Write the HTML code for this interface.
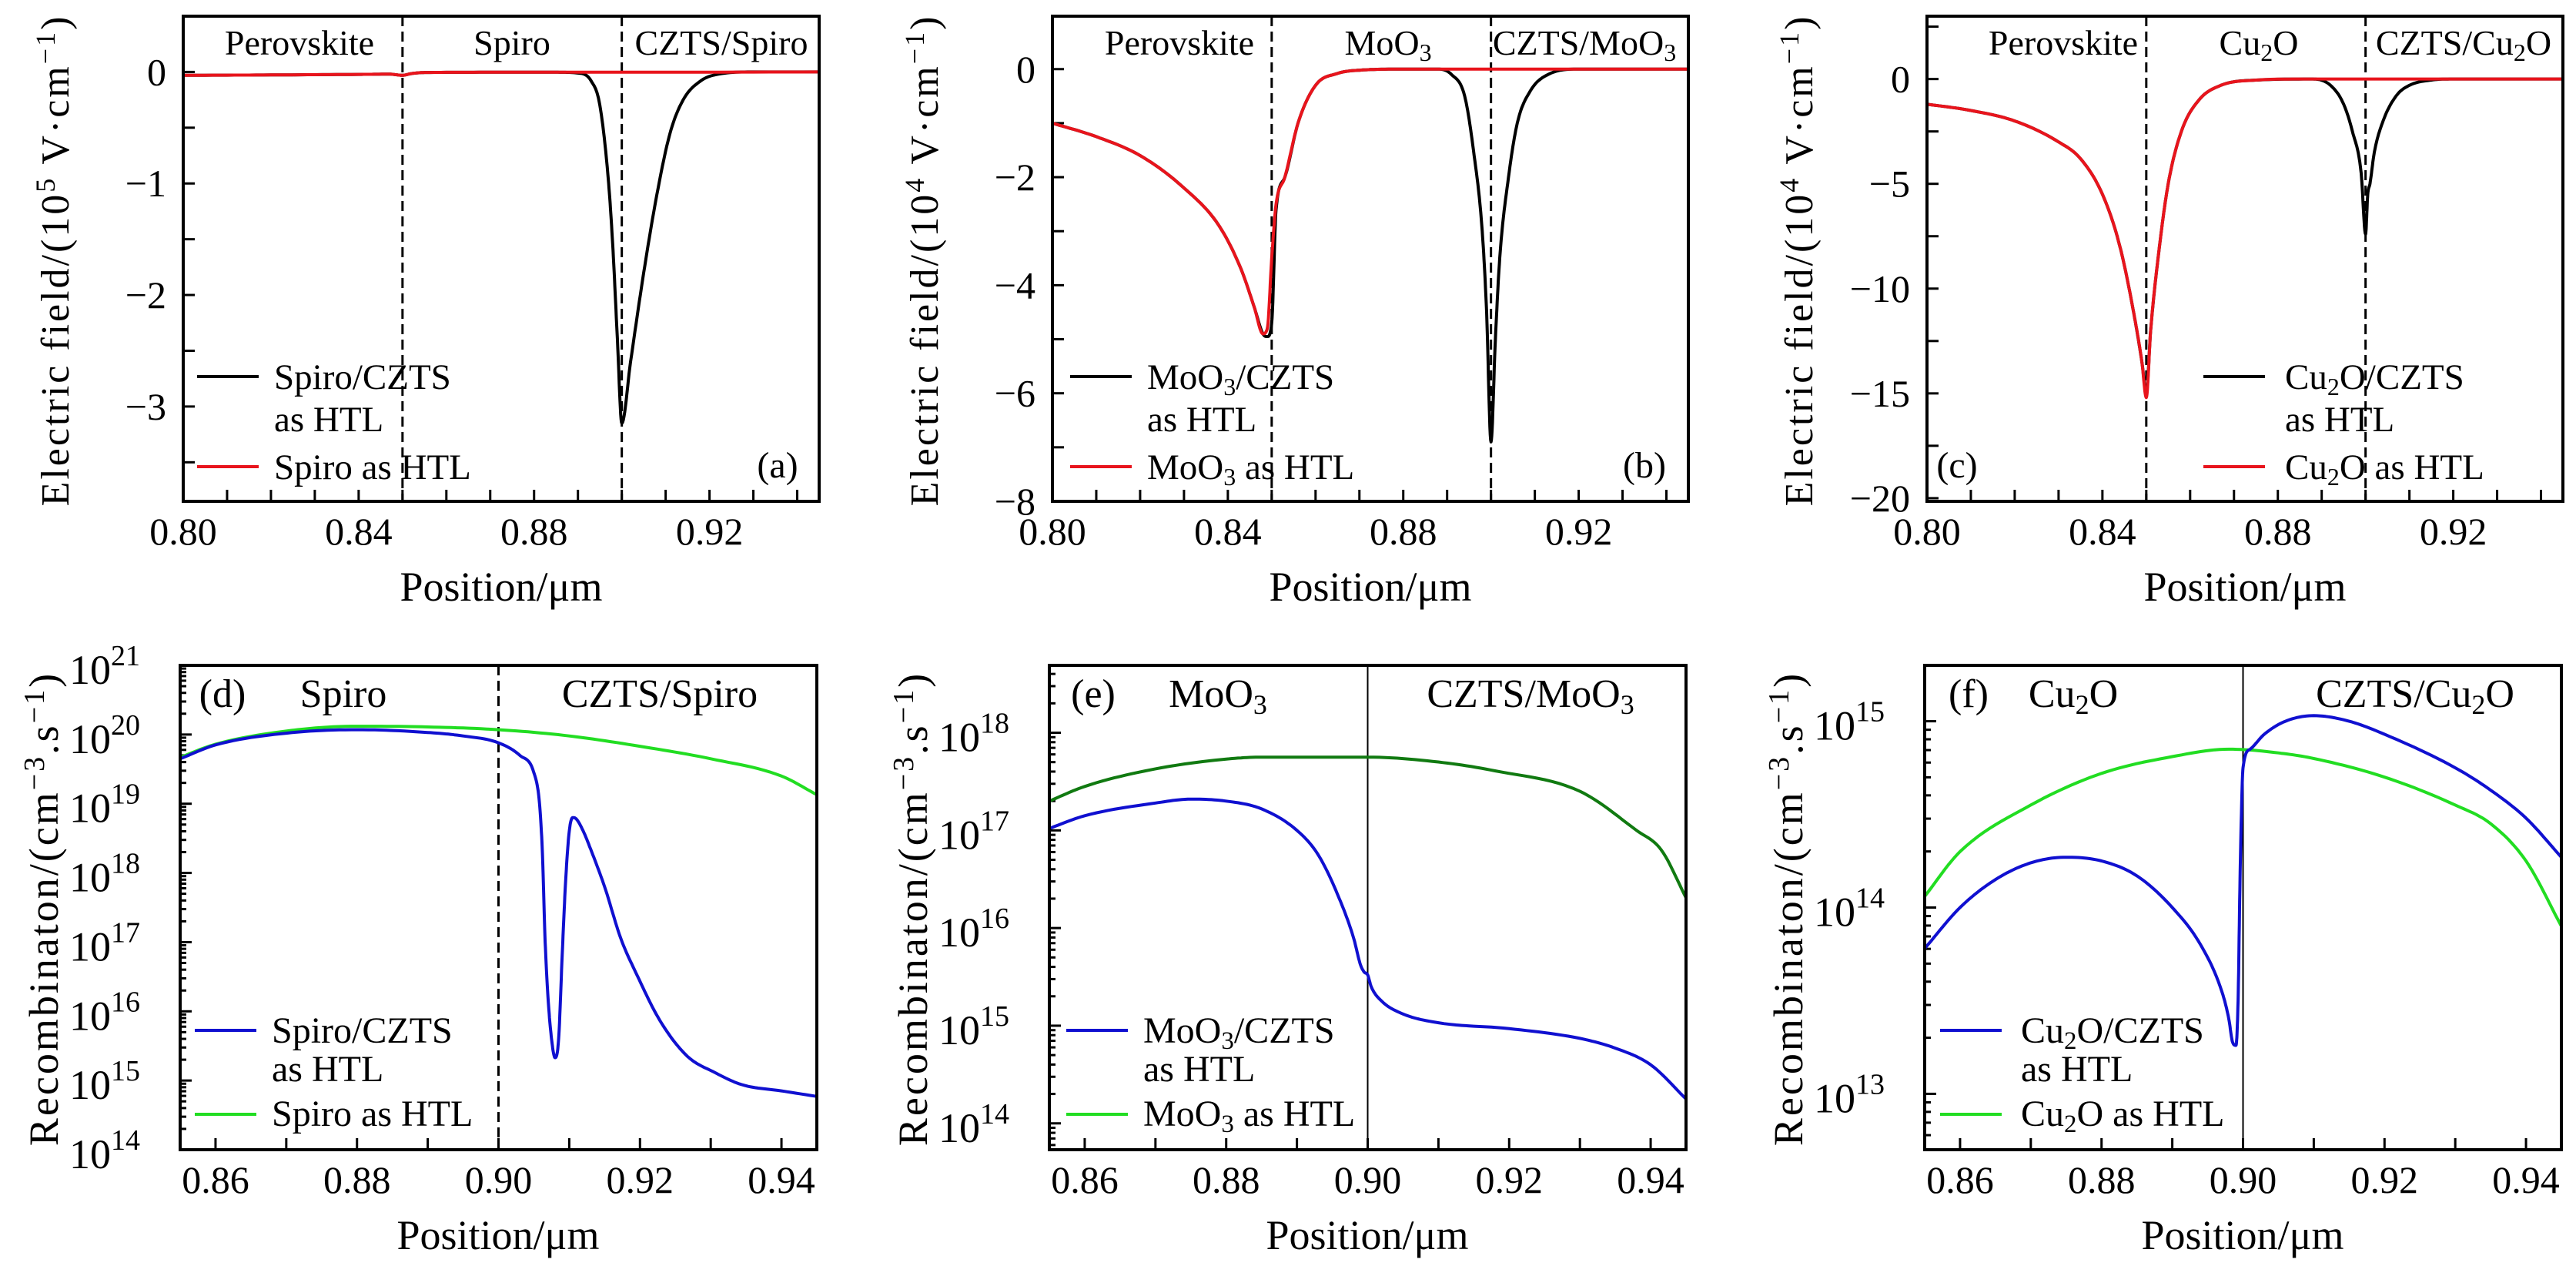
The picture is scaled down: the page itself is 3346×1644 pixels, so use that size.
<!DOCTYPE html>
<html><head><meta charset="utf-8"><title>Electric field and recombination profiles</title>
<style>
html,body{margin:0;padding:0;background:#fff;}
svg{display:block;font-family:"Liberation Serif",serif;}
</style></head>
<body>
<svg id="fig" width="3346" height="1644" viewBox="0 0 3346 1644" xmlns="http://www.w3.org/2000/svg">
<rect x="0" y="0" width="3346" height="1644" fill="#fff"/>
<g font-size="46" fill="#000">
  <text x="389" y="71" font-size="46" text-anchor="middle">Perovskite</text>
  <text x="665" y="71" font-size="46" text-anchor="middle">Spiro</text>
  <text x="937" y="71" font-size="46" text-anchor="middle">CZTS/Spiro</text>
  <text x="1532" y="71" font-size="46" text-anchor="middle">Perovskite</text>
  <text x="1803" y="71" font-size="46" text-anchor="middle">MoO<tspan font-size="32" dy="8">3</tspan></text>
  <text x="2058" y="71" font-size="46" text-anchor="middle">CZTS/MoO<tspan font-size="32" dy="8">3</tspan></text>
  <text x="2680" y="71" font-size="46" text-anchor="middle">Perovskite</text>
  <text x="2934" y="71" font-size="46" text-anchor="middle">Cu<tspan font-size="32" dy="8">2</tspan><tspan dy="-8">O</tspan></text>
  <text x="3200" y="71" font-size="46" text-anchor="middle">CZTS/Cu<tspan font-size="32" dy="8">2</tspan><tspan dy="-8">O</tspan></text>
  <text x="1010" y="620" font-size="48" text-anchor="middle">(a)</text>
  <text x="2136" y="620" font-size="48" text-anchor="middle">(b)</text>
  <text x="2542" y="620" font-size="48" text-anchor="middle">(c)</text>
  <text x="289" y="918" font-size="52" text-anchor="middle">(d)</text>
  <text x="446" y="918" font-size="52" text-anchor="middle">Spiro</text>
  <text x="857" y="918" font-size="52" text-anchor="middle">CZTS/Spiro</text>
  <text x="1420" y="918" font-size="52" text-anchor="middle">(e)</text>
  <text x="1582" y="918" font-size="52" text-anchor="middle">MoO<tspan font-size="36" dy="9">3</tspan></text>
  <text x="1988" y="918" font-size="52" text-anchor="middle">CZTS/MoO<tspan font-size="36" dy="9">3</tspan></text>
  <text x="2557" y="918" font-size="52" text-anchor="middle">(f)</text>
  <text x="2693" y="918" font-size="52" text-anchor="middle">Cu<tspan font-size="36" dy="9">2</tspan><tspan dy="-9">O</tspan></text>
  <text x="3137" y="918" font-size="52" text-anchor="middle">CZTS/Cu<tspan font-size="36" dy="9">2</tspan><tspan dy="-9">O</tspan></text>
  <text x="651" y="780" font-size="54" text-anchor="middle">Position/μm</text>
  <text x="1780" y="780" font-size="54" text-anchor="middle">Position/μm</text>
  <text x="2916" y="780" font-size="54" text-anchor="middle">Position/μm</text>
  <text x="647" y="1622" font-size="54" text-anchor="middle">Position/μm</text>
  <text x="1776" y="1622" font-size="54" text-anchor="middle">Position/μm</text>
  <text x="2913" y="1622" font-size="54" text-anchor="middle">Position/μm</text>
  <text transform="translate(89,338) rotate(-90)" font-size="52" text-anchor="middle" letter-spacing="3">Electric field/(10<tspan font-size="36" dy="-18">5</tspan><tspan dy="18"> V·cm</tspan><tspan font-size="36" dy="-18">−1</tspan><tspan dy="18">)</tspan></text>
  <text transform="translate(1218,338) rotate(-90)" font-size="52" text-anchor="middle" letter-spacing="3">Electric field/(10<tspan font-size="36" dy="-18">4</tspan><tspan dy="18"> V·cm</tspan><tspan font-size="36" dy="-18">−1</tspan><tspan dy="18">)</tspan></text>
  <text transform="translate(2354,338) rotate(-90)" font-size="52" text-anchor="middle" letter-spacing="3">Electric field/(10<tspan font-size="36" dy="-18">4</tspan><tspan dy="18"> V·cm</tspan><tspan font-size="36" dy="-18">−1</tspan><tspan dy="18">)</tspan></text>
  <text transform="translate(75,1180) rotate(-90)" font-size="54" text-anchor="middle" letter-spacing="3">Recombinaton/(cm<tspan font-size="38" dy="-18">−3</tspan><tspan dy="18">.s</tspan><tspan font-size="38" dy="-18">−1</tspan><tspan dy="18">)</tspan></text>
  <text transform="translate(1204,1180) rotate(-90)" font-size="54" text-anchor="middle" letter-spacing="3">Recombinaton/(cm<tspan font-size="38" dy="-18">−3</tspan><tspan dy="18">.s</tspan><tspan font-size="38" dy="-18">−1</tspan><tspan dy="18">)</tspan></text>
  <text transform="translate(2341,1180) rotate(-90)" font-size="54" text-anchor="middle" letter-spacing="3">Recombinaton/(cm<tspan font-size="38" dy="-18">−3</tspan><tspan dy="18">.s</tspan><tspan font-size="38" dy="-18">−1</tspan><tspan dy="18">)</tspan></text>
  <g font-size="47">
    <line x1="256" y1="489" x2="336" y2="489" stroke="#000" stroke-width="4"/>
    <text x="356" y="505">Spiro/CZTS</text><text x="356" y="560">as HTL</text>
    <line x1="256" y1="606" x2="336" y2="606" stroke="#e8141c" stroke-width="4"/>
    <text x="356" y="622">Spiro as HTL</text>
  </g>
  <g font-size="47">
    <line x1="1390" y1="489" x2="1470" y2="489" stroke="#000" stroke-width="4"/>
    <text x="1490" y="505">MoO<tspan font-size="32" dy="8">3</tspan><tspan dy="-8">/CZTS</tspan></text><text x="1490" y="560">as HTL</text>
    <line x1="1390" y1="606" x2="1470" y2="606" stroke="#e8141c" stroke-width="4"/>
    <text x="1490" y="622">MoO<tspan font-size="32" dy="8">3</tspan><tspan dy="-8"> as HTL</tspan></text>
  </g>
  <g font-size="47">
    <line x1="2862" y1="489" x2="2942" y2="489" stroke="#000" stroke-width="4"/>
    <text x="2968" y="505">Cu<tspan font-size="32" dy="8">2</tspan><tspan dy="-8">O/CZTS</tspan></text><text x="2968" y="560">as HTL</text>
    <line x1="2862" y1="606" x2="2942" y2="606" stroke="#e8141c" stroke-width="4"/>
    <text x="2968" y="622">Cu<tspan font-size="32" dy="8">2</tspan><tspan dy="-8">O as HTL</tspan></text>
  </g>
  <g font-size="48">
    <line x1="253" y1="1338" x2="333" y2="1338" stroke="#1010d0" stroke-width="4"/>
    <text x="353" y="1354">Spiro/CZTS</text><text x="353" y="1404">as HTL</text>
    <line x1="253" y1="1447" x2="333" y2="1447" stroke="#22dd22" stroke-width="4"/>
    <text x="353" y="1462">Spiro as HTL</text>
  </g>
  <g font-size="48">
    <line x1="1385" y1="1338" x2="1465" y2="1338" stroke="#1010d0" stroke-width="4"/>
    <text x="1485" y="1354">MoO<tspan font-size="33" dy="8">3</tspan><tspan dy="-8">/CZTS</tspan></text><text x="1485" y="1404">as HTL</text>
    <line x1="1385" y1="1447" x2="1465" y2="1447" stroke="#22dd22" stroke-width="4"/>
    <text x="1485" y="1462">MoO<tspan font-size="33" dy="8">3</tspan><tspan dy="-8"> as HTL</tspan></text>
  </g>
  <g font-size="48">
    <line x1="2520" y1="1338" x2="2600" y2="1338" stroke="#1010d0" stroke-width="4"/>
    <text x="2625" y="1354">Cu<tspan font-size="33" dy="8">2</tspan><tspan dy="-8">O/CZTS</tspan></text><text x="2625" y="1404">as HTL</text>
    <line x1="2520" y1="1447" x2="2600" y2="1447" stroke="#22dd22" stroke-width="4"/>
    <text x="2625" y="1462">Cu<tspan font-size="33" dy="8">2</tspan><tspan dy="-8">O as HTL</tspan></text>
  </g>
</g>
</svg>
<script>
// ---------- data ----------
const aRedX = [0.800,0.820,0.840,0.847,0.850,0.852,0.855,0.870,0.900,0.945];
const aRedY = [-0.030,-0.027,-0.022,-0.020,-0.030,-0.015,-0.005,-0.003,-0.003,0.000];
const aBlackX = [0.800,0.820,0.840,0.847,0.850,0.852,0.855,0.870,0.885,0.890,0.893,0.895,0.897,0.898,0.899,0.900,0.902,0.905,0.908,0.911,0.914,0.918,0.922,0.930,0.945];
const aBlackY = [-0.030,-0.027,-0.022,-0.020,-0.030,-0.015,-0.005,-0.003,-0.003,-0.01,-0.08,-0.3,-1.0,-1.6,-2.4,-3.15,-2.6,-1.8,-1.1,-0.55,-0.25,-0.08,-0.02,0,0];

const bRedX = [0.800,0.810,0.820,0.830,0.838,0.843,0.846,0.848,0.849,0.850,0.851,0.853,0.856,0.860,0.865,0.870,0.880,0.945];
const bRedY = [-1.0,-1.25,-1.6,-2.2,-2.9,-3.7,-4.4,-4.9,-4.8,-3.5,-2.5,-2.0,-1.0,-0.3,-0.08,-0.02,0,0];
const bBlackX = [0.800,0.810,0.820,0.830,0.838,0.843,0.846,0.848,0.849,0.850,0.851,0.853,0.856,0.860,0.865,0.870,0.880,0.888,0.891,0.894,0.896,0.898,0.899,0.900,0.901,0.902,0.904,0.906,0.909,0.913,0.920,0.945];
const bBlackY = [-1.0,-1.25,-1.6,-2.2,-2.9,-3.7,-4.4,-4.9,-4.95,-4.7,-2.6,-2.0,-1.0,-0.3,-0.08,-0.02,0,0,-0.1,-0.5,-1.5,-3.0,-4.5,-6.9,-5.0,-3.5,-2.0,-1.0,-0.4,-0.1,0,0];

const cRedX = [0.800,0.810,0.820,0.830,0.835,0.840,0.844,0.847,0.849,0.850,0.851,0.853,0.855,0.858,0.862,0.867,0.875,0.885,0.945];
const cRedY = [-1.2,-1.5,-2.0,-3.0,-3.8,-5.5,-8.0,-11.0,-13.5,-15.2,-12.0,-8.0,-5.0,-2.5,-1.0,-0.3,-0.05,0,0];
const cBlackX = [0.800,0.810,0.820,0.830,0.835,0.840,0.844,0.847,0.849,0.850,0.851,0.853,0.855,0.858,0.862,0.867,0.875,0.888,0.892,0.895,0.897,0.899,0.900,0.9005,0.901,0.902,0.904,0.907,0.910,0.915,0.920,0.945];
const cBlackY = [-1.2,-1.5,-2.0,-3.0,-3.8,-5.5,-8.0,-11.0,-13.5,-15.0,-12.0,-8.0,-5.0,-2.5,-1.0,-0.3,-0.05,0,-0.3,-1.2,-2.5,-4.5,-7.4,-5.5,-5.0,-3.5,-2.0,-0.8,-0.3,-0.05,0,0];

const dGreenX = [0.855,0.860,0.870,0.880,0.890,0.900,0.910,0.920,0.930,0.940,0.945];
const dGreenY = [19.67,19.86,20.05,20.12,20.11,20.07,19.98,19.83,19.65,19.40,19.13];
const dBlueX = [0.855,0.860,0.870,0.880,0.890,0.895,0.900,0.903,0.905,0.9058,0.9062,0.9066,0.907,0.9075,0.908,0.9085,0.909,0.9095,0.910,0.9105,0.911,0.912,0.913,0.915,0.9173,0.9196,0.9228,0.9267,0.9305,0.9344,0.940,0.945];
const dBlueY = [19.65,19.85,20.02,20.07,20.03,19.98,19.88,19.70,19.45,19.0,18.3,17.0,16.2,15.6,15.33,15.6,16.8,17.9,18.6,18.8,18.78,18.6,18.35,17.8,17.05,16.52,15.87,15.35,15.12,14.94,14.85,14.77];

const eGreenX = [0.855,0.860,0.870,0.880,0.885,0.900,0.910,0.918,0.930,0.938,0.9415,0.945];
const eGreenY = [17.30,17.45,17.63,17.73,17.75,17.75,17.70,17.61,17.40,17.00,16.80,16.31];
const eBlueX = [0.855,0.860,0.870,0.875,0.880,0.885,0.890,0.893,0.896,0.898,0.899,0.8995,0.900,0.9005,0.902,0.905,0.910,0.920,0.930,0.935,0.940,0.945];
const eBlueY = [17.02,17.15,17.28,17.32,17.30,17.22,17.00,16.75,16.30,15.90,15.62,15.55,15.52,15.40,15.25,15.12,15.03,14.97,14.87,14.77,14.60,14.25];

const fGreenX = [0.855,0.860,0.870,0.880,0.890,0.898,0.905,0.910,0.920,0.930,0.935,0.940,0.945];
const fGreenY = [14.06,14.30,14.55,14.72,14.81,14.85,14.83,14.80,14.70,14.55,14.45,14.25,13.90];
const fBlueX = [0.855,0.860,0.865,0.870,0.875,0.880,0.885,0.890,0.894,0.897,0.898,0.8985,0.899,0.8993,0.8996,0.900,0.901,0.903,0.906,0.910,0.915,0.920,0.930,0.935,0.940,0.945];
const fBlueY = [13.78,14.00,14.15,14.24,14.27,14.25,14.17,14.00,13.80,13.55,13.40,13.28,13.26,13.50,14.20,14.75,14.85,14.93,15.00,15.03,15.00,14.93,14.75,14.63,14.48,14.27];

const topXLabels = [0.80,0.84,0.88,0.92];
const botXLabels = [0.86,0.88,0.90,0.92,0.94];
const aYLabels = [0,-1,-2,-3];
const bYLabels = [0,-2,-4,-6,-8];
const cYLabels = [0,-5,-10,-15,-20];
const dDecades = [14,15,16,17,18,19,20,21];
const eDecades = [14,15,16,17,18];
const fDecades = [13,14,15];

// ---------- drawing ----------
const NS = 'http://www.w3.org/2000/svg';
const svg = document.getElementById('fig');
function el(tag, parent) { const e = document.createElementNS(NS, tag); parent.appendChild(e); return e; }

// monotone cubic (Fritsch-Carlson) sampling
function monotone(xs, ys) {
  const n = xs.length, dk = [], m = new Array(n);
  for (let i = 0; i < n - 1; i++) dk.push((ys[i+1] - ys[i]) / (xs[i+1] - xs[i]));
  m[0] = dk[0]; m[n-1] = dk[n-2];
  for (let i = 1; i < n - 1; i++) m[i] = (dk[i-1] * dk[i] <= 0) ? 0 : (dk[i-1] + dk[i]) / 2;
  for (let i = 0; i < n - 1; i++) {
    if (dk[i] === 0) { m[i] = 0; m[i+1] = 0; continue; }
    const a = m[i] / dk[i], b = m[i+1] / dk[i], s = a*a + b*b;
    if (s > 9) { const t = 3 / Math.sqrt(s); m[i] = t*a*dk[i]; m[i+1] = t*b*dk[i]; }
  }
  const px = [], py = [];
  for (let i = 0; i < n - 1; i++) {
    const h = xs[i+1] - xs[i];
    for (let j = 0; j < 12; j++) {
      const t = j / 12, t2 = t*t, t3 = t2*t;
      px.push(xs[i] + t*h);
      py.push((2*t3-3*t2+1)*ys[i] + (t3-2*t2+t)*h*m[i] + (-2*t3+3*t2)*ys[i+1] + (t3-t2)*h*m[i+1]);
    }
  }
  px.push(xs[n-1]); py.push(ys[n-1]);
  return [px, py];
}

const panels = [
  {id:'a', L:238, T:21, W:826, H:630, x0:0.80, x1:0.945, y0:-3.85, y1:0.5, log:false, yMinor:0.5, yLabels:aYLabels, xLabels:topXLabels, vlines:[0.85,0.90], dash:true,
   series:[{n:'spiro-czts', xs:aBlackX, ys:aBlackY, c:'#000'},{n:'spiro', xs:aRedX, ys:aRedY, c:'#e8141c'}]},
  {id:'b', L:1367, T:21, W:826, H:630, x0:0.80, x1:0.945, y0:-8, y1:0.98, log:false, yMinor:1, yLabels:bYLabels, xLabels:topXLabels, vlines:[0.85,0.90], dash:true,
   series:[{n:'moo3-czts', xs:bBlackX, ys:bBlackY, c:'#000'},{n:'moo3', xs:bRedX, ys:bRedY, c:'#e8141c'}]},
  {id:'c', L:2503, T:21, W:826, H:630, x0:0.80, x1:0.945, y0:-20.15, y1:3.0, log:false, yMinor:2.5, yLabels:cYLabels, xLabels:topXLabels, vlines:[0.85,0.90], dash:true,
   series:[{n:'cu2o-czts', xs:cBlackX, ys:cBlackY, c:'#000'},{n:'cu2o', xs:cRedX, ys:cRedY, c:'#e8141c'}]},
  {id:'d', L:234, T:864, W:827, H:629, x0:0.855, x1:0.945, y0:14, y1:21, log:true, yLabels:dDecades, xLabels:botXLabels, vlines:[0.90], dash:true,
   series:[{n:'spiro', xs:dGreenX, ys:dGreenY, c:'#22dd22'},{n:'spiro-czts', xs:dBlueX, ys:dBlueY, c:'#1010d0'}]},
  {id:'e', L:1363, T:864, W:827, H:629, x0:0.855, x1:0.945, y0:13.73, y1:18.69, log:true, yLabels:eDecades, xLabels:botXLabels, vlines:[0.90], dash:false,
   series:[{n:'moo3', xs:eGreenX, ys:eGreenY, c:'#117a11'},{n:'moo3-czts', xs:eBlueX, ys:eBlueY, c:'#1010d0'}]},
  {id:'f', L:2500, T:864, W:827, H:629, x0:0.855, x1:0.945, y0:12.70, y1:15.30, log:true, yLabels:fDecades, xLabels:botXLabels, vlines:[0.90], dash:false,
   series:[{n:'cu2o', xs:fGreenX, ys:fGreenY, c:'#22dd22'},{n:'cu2o-czts', xs:fBlueX, ys:fBlueY, c:'#1010d0'}]}
];

function fmtNum(v){ return (v<0?'\u2212':'') + Math.abs(v); }

panels.forEach(p => {
  const g = el('g', svg);
  
  
  const sx = v => p.L + (v - p.x0) / (p.x1 - p.x0) * p.W;
  const sy = v => p.T + p.H - (v - p.y0) / (p.y1 - p.y0) * p.H;
  const B = p.T + p.H;
  const cp = el('clipPath', g); cp.setAttribute('id', 'clip-' + p.id);
  const cr = el('rect', cp); cr.setAttribute('x', p.L); cr.setAttribute('y', p.T); cr.setAttribute('width', p.W); cr.setAttribute('height', p.H);
  for (let k = Math.ceil(p.x0*100 - 1e-6); k <= Math.floor(p.x1*100 + 1e-6); k++) {
    const v = k/100, x = sx(v);
    const t = el('line', g);
    
    
    t.setAttribute('x1', x); t.setAttribute('x2', x); t.setAttribute('y1', B); t.setAttribute('y2', B - 15);
    t.setAttribute('stroke', '#000'); t.setAttribute('stroke-width', 3);
  }
  p.xLabels.forEach(v => {
    const t = el('text', g);
    
    
    t.setAttribute('x', sx(v)); t.setAttribute('y', B + 56);
    t.setAttribute('font-size', 50); t.setAttribute('text-anchor', 'middle');
    t.textContent = v.toFixed(2);
  });
  if (!p.log) {
    for (let v = Math.ceil(p.y0 / p.yMinor) * p.yMinor; v <= p.y1 + 1e-9; v += p.yMinor) {
      const y = sy(v);
      const t = el('line', g);
      
      
      t.setAttribute('x1', p.L); t.setAttribute('x2', p.L + 15); t.setAttribute('y1', y); t.setAttribute('y2', y);
      t.setAttribute('stroke', '#000'); t.setAttribute('stroke-width', 3);
    }
    p.yLabels.forEach(v => {
      const t = el('text', g);
      
      
      t.setAttribute('x', p.L - 22); t.setAttribute('y', sy(v) + 17);
      t.setAttribute('font-size', 50); t.setAttribute('text-anchor', 'end');
      t.textContent = fmtNum(v);
    });
  } else {
    for (let d = Math.floor(p.y0); d <= Math.ceil(p.y1); d++) {
      for (let m = 1; m <= 9; m++) {
        const v = d + Math.log10(m);
        if (v < p.y0 - 1e-9 || v > p.y1 + 1e-9) continue;
        const y = sy(v);
        const t = el('line', g);
        
        
        t.setAttribute('x1', p.L); t.setAttribute('x2', p.L + (m === 1 ? 15 : 8)); t.setAttribute('y1', y); t.setAttribute('y2', y);
        t.setAttribute('stroke', '#000'); t.setAttribute('stroke-width', 3);
      }
    }
    p.yLabels.forEach(d => {
      const t = el('text', g);
      
      
      t.setAttribute('x', p.L - 52); t.setAttribute('y', sy(d) + 24);
      t.setAttribute('font-size', 54); t.setAttribute('text-anchor', 'end');
      t.textContent = '10';
      const s = el('tspan', t);
      s.setAttribute('font-size', 38); s.setAttribute('dy', -24);
      s.textContent = String(d);
    });
  }
  p.vlines.forEach(v => {
    const l = el('line', g);
    
    
    l.setAttribute('x1', sx(v)); l.setAttribute('x2', sx(v)); l.setAttribute('y1', p.T); l.setAttribute('y2', B);
    l.setAttribute('stroke', '#000'); l.setAttribute('stroke-width', p.dash ? 3 : 2);
    if (p.dash) l.setAttribute('stroke-dasharray', '13 7');
  });
  p.series.forEach(s => {
    const path = el('path', g);
    
    
    const [px, py] = monotone(s.xs, s.ys);
    let d = '';
    px.forEach((xv, i) => { d += (i ? 'L' : 'M') + sx(xv).toFixed(1) + ',' + sy(py[i]).toFixed(1); });
    path.setAttribute('d', d);
    path.setAttribute('fill', 'none'); path.setAttribute('stroke', s.c);
    path.setAttribute('stroke-width', 4); path.setAttribute('stroke-linejoin', 'round');
    path.setAttribute('clip-path', 'url(#clip-' + p.id + ')');
  });
  const f = el('rect', g);
  
  
  f.setAttribute('x', p.L); f.setAttribute('y', p.T); f.setAttribute('width', p.W); f.setAttribute('height', p.H);
  f.setAttribute('fill', 'none'); f.setAttribute('stroke', '#000'); f.setAttribute('stroke-width', 4);
});
</script>
</body></html>
